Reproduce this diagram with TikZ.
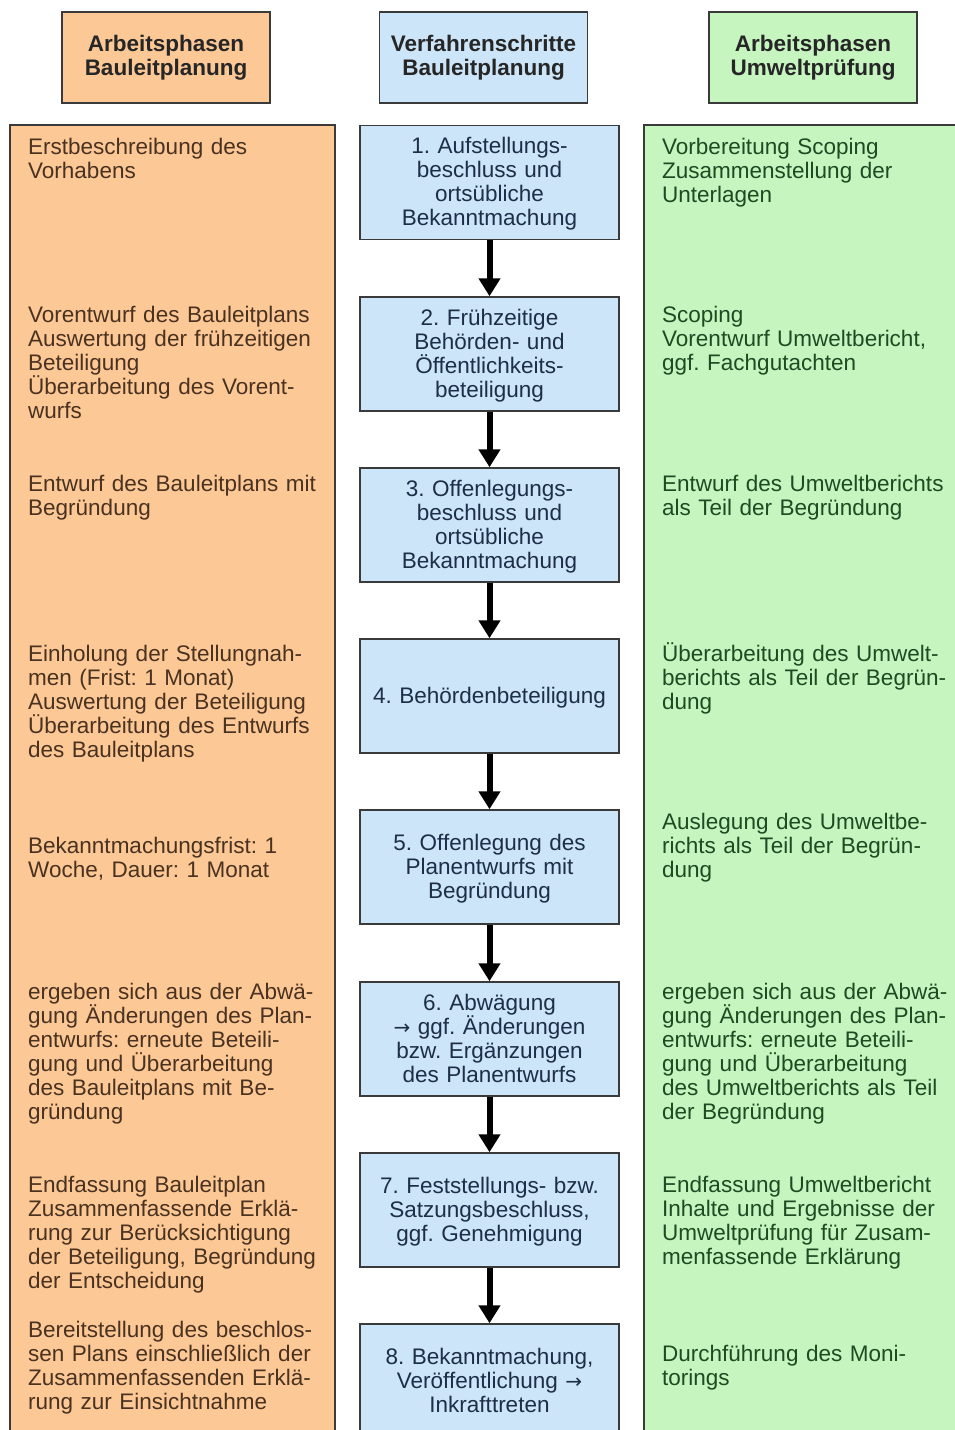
\documentclass[tikz,border=0pt]{standalone}
\usepackage{fontspec}
\setmainfont{Liberation Sans}
\newfontfamily\arrowfont{DejaVu Sans}
\usetikzlibrary{arrows.meta}
\definecolor{orangefill}{HTML}{FCC896}
\definecolor{bluefill}{HTML}{CCE5F8}
\definecolor{greenfill}{HTML}{C6F5C0}
\definecolor{brownText}{HTML}{4A3220}
\definecolor{greenText}{HTML}{1F4A22}
\definecolor{blueText}{HTML}{1E2E48}
\definecolor{borderc}{HTML}{3A3A3A}
\lineskiplimit=-30pt
\lineskip=0pt
\frenchspacing
\newcommand{\diafont}{\fontsize{22.5}{24}\selectfont\frenchspacing}
\newcommand{\rarr}{{\arrowfont\fontsize{20}{24}\selectfont →}}
\begin{document}
\begin{tikzpicture}[x=1pt,y=-1pt,
  colbox/.style={draw=borderc, line width=1.5pt},
  hdr/.style={draw=borderc, line width=1.5pt, minimum width=208pt, minimum height=91pt,
    inner sep=0pt, align=center, font=\diafont\bfseries, text=black!85},
  stepbox/.style={draw=borderc, line width=1.5pt, fill=bluefill, minimum width=259pt,
    minimum height=114pt, inner sep=0pt, text width=255pt, align=center,
    font=\diafont, text=blueText,
    execute at begin node={\rule{0pt}{19pt}}, execute at end node={\rule[-5pt]{0pt}{5pt}}},
  ltext/.style={anchor=north west, inner sep=0pt, text width=330pt, align=left,
    font=\diafont, text=brownText, execute at begin node={\rule{0pt}{19pt}}},
  rtext/.style={ltext, text=greenText},
  flow/.style={line width=6pt, draw=black, -{Triangle[width=21pt,length=18pt]}}
]
\useasboundingbox (0,0) rectangle (955,1430);
\clip (0,0) rectangle (955,1430);
\fill[white] (0,0) rectangle (955,1430);

% headers
\node[hdr, fill=orangefill] (h1) at (166,57.5) {Arbeitsphasen\\Bauleitplanung};
\node[hdr, fill=bluefill] (h2) at (483.5,57.5) {Verfahrenschritte\\Bauleitplanung};
\node[hdr, fill=greenfill] (h3) at (813,57.5) {Arbeitsphasen\\Umweltprüfung};

% columns
\draw[colbox, fill=orangefill] (10,125) rectangle (335,1450);
\draw[colbox, fill=greenfill] (644,125) rectangle (970,1450);

% middle steps
\node[stepbox] (s1) at (489.5,182.5) {1. Aufstellungs-\\beschluss und\\ortsübliche\\Bekanntmachung};
\node[stepbox] (s2) at (489.5,354) {2. Frühzeitige\\Behörden- und\\Öffentlichkeits-\\beteiligung};
\node[stepbox] (s3) at (489.5,525) {3. Offenlegungs-\\beschluss und\\ortsübliche\\Bekanntmachung};
\node[stepbox] (s4) at (489.5,696) {4. Behördenbeteiligung};
\node[stepbox] (s5) at (489.5,867) {5. Offenlegung des\\Planentwurfs mit\\Begründung};
\node[stepbox] (s6) at (489.5,1039) {6. Abwägung\\\rarr{} ggf. Änderungen\\bzw. Ergänzungen\\des Planentwurfs};
\node[stepbox] (s7) at (489.5,1210) {7. Feststellungs- bzw.\\Satzungsbeschluss,\\ggf. Genehmigung};
\node[stepbox] (s8) at (489.5,1381) {8. Bekanntmachung,\\Veröffentlichung \rarr\\Inkrafttreten};

\draw[flow] (s1.south) -- (s2.north);
\draw[flow] (s2.south) -- (s3.north);
\draw[flow] (s3.south) -- (s4.north);
\draw[flow] (s4.south) -- (s5.north);
\draw[flow] (s5.south) -- (s6.north);
\draw[flow] (s6.south) -- (s7.north);
\draw[flow] (s7.south) -- (s8.north);

% left texts
\node[ltext] (l1) at (28,135) {Erstbeschreibung des\\Vorhabens};
\node[ltext] (l2) at (28,303) {Vorentwurf des Bauleitplans\\Auswertung der frühzeitigen\\Beteiligung\\Überarbeitung des Vorent-\\wurfs};
\node[ltext] (l3) at (28,472) {Entwurf des Bauleitplans mit\\Begründung};
\node[ltext] (l4) at (28,642) {Einholung der Stellungnah-\\men (Frist: 1 Monat)\\Auswertung der Beteiligung\\Überarbeitung des Entwurfs\\des Bauleitplans};
\node[ltext] (l5) at (28,834) {Bekanntmachungsfrist: 1\\Woche, Dauer: 1 Monat};
\node[ltext] (l6) at (28,980) {ergeben sich aus der Abwä-\\gung Änderungen des Plan-\\entwurfs: erneute Beteili-\\gung und Überarbeitung\\des Bauleitplans mit Be-\\gründung};
\node[ltext] (l7) at (28,1173) {Endfassung Bauleitplan\\Zusammenfassende Erklä-\\rung zur Berücksichtigung\\der Beteiligung, Begründung\\der Entscheidung};
\node[ltext] (l8) at (28,1318) {Bereitstellung des beschlos-\\sen Plans einschließlich der\\Zusammenfassenden Erklä-\\rung zur Einsichtnahme};

% right texts
\node[rtext] (r1) at (662,135) {Vorbereitung Scoping\\Zusammenstellung der\\Unterlagen};
\node[rtext] (r2) at (662,303) {Scoping\\Vorentwurf Umweltbericht,\\ggf. Fachgutachten};
\node[rtext] (r3) at (662,472) {Entwurf des Umweltberichts\\als Teil der Begründung};
\node[rtext] (r4) at (662,642) {Überarbeitung des Umwelt-\\berichts als Teil der Begrün-\\dung};
\node[rtext] (r5) at (662,810) {Auslegung des Umweltbe-\\richts als Teil der Begrün-\\dung};
\node[rtext] (r6) at (662,980) {ergeben sich aus der Abwä-\\gung Änderungen des Plan-\\entwurfs: erneute Beteili-\\gung und Überarbeitung\\des Umweltberichts als Teil\\der Begründung};
\node[rtext] (r7) at (662,1173) {Endfassung Umweltbericht\\Inhalte und Ergebnisse der\\Umweltprüfung für Zusam-\\menfassende Erklärung};
\node[rtext] (r8) at (662,1342) {Durchführung des Moni-\\torings};
\end{tikzpicture}
\end{document}
